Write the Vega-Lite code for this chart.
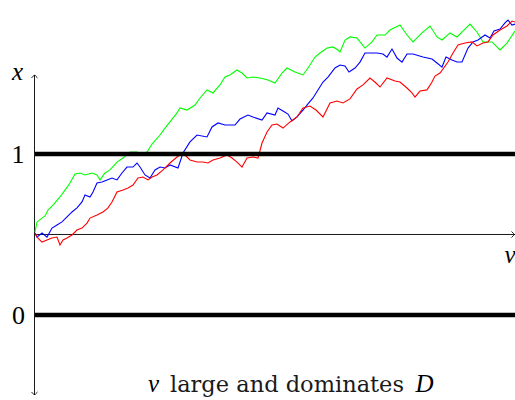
{
  "$schema": "https://vega.github.io/schema/vega-lite/v6.json",
  "width": 480,
  "height": 400,
  "autosize": {"type": "none"},
  "padding": {"left": 35, "top": 0, "right": 0, "bottom": 0},
  "background": "white",
  "config": {"view": {"stroke": null}, "text": {"font": "Liberation Serif"}},
  "datasets": {
    "walks": [
      {"walk": "green", "step": 0, "value": 0.516}, {"walk": "green", "step": 2, "value": 0.578}, {"walk": "green", "step": 7, "value": 0.602}, {"walk": "green", "step": 10, "value": 0.615}, {"walk": "green", "step": 13, "value": 0.652}, {"walk": "green", "step": 18, "value": 0.683}, {"walk": "green", "step": 25, "value": 0.733}, {"walk": "green", "step": 30, "value": 0.776}, {"walk": "green", "step": 35, "value": 0.82}, {"walk": "green", "step": 40, "value": 0.876}, {"walk": "green", "step": 45, "value": 0.882}, {"walk": "green", "step": 50, "value": 0.87}, {"walk": "green", "step": 57, "value": 0.882}, {"walk": "green", "step": 62, "value": 0.87}, {"walk": "green", "step": 65, "value": 0.839}, {"walk": "green", "step": 70, "value": 0.882}, {"walk": "green", "step": 75, "value": 0.901}, {"walk": "green", "step": 82, "value": 0.95}, {"walk": "green", "step": 88, "value": 0.975}, {"walk": "green", "step": 95, "value": 1.012}, {"walk": "green", "step": 102, "value": 1.012}, {"walk": "green", "step": 107, "value": 0.994}, {"walk": "green", "step": 112, "value": 1.012}, {"walk": "green", "step": 117, "value": 1.062}, {"walk": "green", "step": 125, "value": 1.118}, {"walk": "green", "step": 130, "value": 1.161}, {"walk": "green", "step": 135, "value": 1.199}, {"walk": "green", "step": 142, "value": 1.255}, {"walk": "green", "step": 145, "value": 1.286}, {"walk": "green", "step": 152, "value": 1.273}, {"walk": "green", "step": 160, "value": 1.304}, {"walk": "green", "step": 165, "value": 1.348}, {"walk": "green", "step": 172, "value": 1.398}, {"walk": "green", "step": 178, "value": 1.379}, {"walk": "green", "step": 185, "value": 1.429}, {"walk": "green", "step": 190, "value": 1.478}, {"walk": "green", "step": 195, "value": 1.491}, {"walk": "green", "step": 202, "value": 1.522}, {"walk": "green", "step": 207, "value": 1.503}, {"walk": "green", "step": 212, "value": 1.472}, {"walk": "green", "step": 218, "value": 1.478}, {"walk": "green", "step": 225, "value": 1.472}, {"walk": "green", "step": 233, "value": 1.46}, {"walk": "green", "step": 240, "value": 1.441}, {"walk": "green", "step": 247, "value": 1.503}, {"walk": "green", "step": 252, "value": 1.534}, {"walk": "green", "step": 260, "value": 1.509}, {"walk": "green", "step": 268, "value": 1.491}, {"walk": "green", "step": 275, "value": 1.553}, {"walk": "green", "step": 280, "value": 1.602}, {"walk": "green", "step": 285, "value": 1.627}, {"walk": "green", "step": 292, "value": 1.658}, {"walk": "green", "step": 298, "value": 1.665}, {"walk": "green", "step": 303, "value": 1.646}, {"walk": "green", "step": 305, "value": 1.634}, {"walk": "green", "step": 310, "value": 1.708}, {"walk": "green", "step": 315, "value": 1.727}, {"walk": "green", "step": 322, "value": 1.72}, {"walk": "green", "step": 330, "value": 1.658}, {"walk": "green", "step": 337, "value": 1.696}, {"walk": "green", "step": 342, "value": 1.739}, {"walk": "green", "step": 350, "value": 1.739}, {"walk": "green", "step": 355, "value": 1.77}, {"walk": "green", "step": 365, "value": 1.801}, {"walk": "green", "step": 372, "value": 1.739}, {"walk": "green", "step": 378, "value": 1.696}, {"walk": "green", "step": 387, "value": 1.752}, {"walk": "green", "step": 395, "value": 1.795}, {"walk": "green", "step": 402, "value": 1.727}, {"walk": "green", "step": 407, "value": 1.708}, {"walk": "green", "step": 415, "value": 1.752}, {"walk": "green", "step": 422, "value": 1.727}, {"walk": "green", "step": 429, "value": 1.77}, {"walk": "green", "step": 435, "value": 1.807}, {"walk": "green", "step": 442, "value": 1.758}, {"walk": "green", "step": 448, "value": 1.696}, {"walk": "green", "step": 457, "value": 1.696}, {"walk": "green", "step": 465, "value": 1.646}, {"walk": "green", "step": 472, "value": 1.689}, {"walk": "green", "step": 480, "value": 1.764},

      {"walk": "blue", "step": 0, "value": 0.509}, {"walk": "blue", "step": 2, "value": 0.484}, {"walk": "blue", "step": 7, "value": 0.509}, {"walk": "blue", "step": 12, "value": 0.484}, {"walk": "blue", "step": 17, "value": 0.54}, {"walk": "blue", "step": 22, "value": 0.559}, {"walk": "blue", "step": 27, "value": 0.578}, {"walk": "blue", "step": 32, "value": 0.609}, {"walk": "blue", "step": 37, "value": 0.64}, {"walk": "blue", "step": 42, "value": 0.665}, {"walk": "blue", "step": 47, "value": 0.702}, {"walk": "blue", "step": 50, "value": 0.745}, {"walk": "blue", "step": 55, "value": 0.733}, {"walk": "blue", "step": 58, "value": 0.764}, {"walk": "blue", "step": 62, "value": 0.82}, {"walk": "blue", "step": 67, "value": 0.826}, {"walk": "blue", "step": 72, "value": 0.839}, {"walk": "blue", "step": 77, "value": 0.851}, {"walk": "blue", "step": 82, "value": 0.839}, {"walk": "blue", "step": 87, "value": 0.882}, {"walk": "blue", "step": 92, "value": 0.919}, {"walk": "blue", "step": 98, "value": 0.919}, {"walk": "blue", "step": 102, "value": 0.944}, {"walk": "blue", "step": 105, "value": 0.919}, {"walk": "blue", "step": 110, "value": 0.87}, {"walk": "blue", "step": 115, "value": 0.851}, {"walk": "blue", "step": 120, "value": 0.901}, {"walk": "blue", "step": 125, "value": 0.919}, {"walk": "blue", "step": 130, "value": 0.913}, {"walk": "blue", "step": 135, "value": 0.932}, {"walk": "blue", "step": 143, "value": 0.913}, {"walk": "blue", "step": 148, "value": 1.006}, {"walk": "blue", "step": 155, "value": 1.075}, {"walk": "blue", "step": 162, "value": 1.118}, {"walk": "blue", "step": 172, "value": 1.106}, {"walk": "blue", "step": 177, "value": 1.168}, {"walk": "blue", "step": 183, "value": 1.193}, {"walk": "blue", "step": 190, "value": 1.18}, {"walk": "blue", "step": 200, "value": 1.18}, {"walk": "blue", "step": 205, "value": 1.217}, {"walk": "blue", "step": 213, "value": 1.242}, {"walk": "blue", "step": 218, "value": 1.23}, {"walk": "blue", "step": 227, "value": 1.211}, {"walk": "blue", "step": 232, "value": 1.255}, {"walk": "blue", "step": 240, "value": 1.242}, {"walk": "blue", "step": 243, "value": 1.286}, {"walk": "blue", "step": 248, "value": 1.267}, {"walk": "blue", "step": 253, "value": 1.248}, {"walk": "blue", "step": 257, "value": 1.205}, {"walk": "blue", "step": 262, "value": 1.23}, {"walk": "blue", "step": 268, "value": 1.273}, {"walk": "blue", "step": 273, "value": 1.311}, {"walk": "blue", "step": 278, "value": 1.348}, {"walk": "blue", "step": 283, "value": 1.398}, {"walk": "blue", "step": 288, "value": 1.447}, {"walk": "blue", "step": 293, "value": 1.478}, {"walk": "blue", "step": 300, "value": 1.534}, {"walk": "blue", "step": 305, "value": 1.553}, {"walk": "blue", "step": 310, "value": 1.547}, {"walk": "blue", "step": 314, "value": 1.509}, {"walk": "blue", "step": 320, "value": 1.534}, {"walk": "blue", "step": 325, "value": 1.571}, {"walk": "blue", "step": 330, "value": 1.627}, {"walk": "blue", "step": 335, "value": 1.627}, {"walk": "blue", "step": 342, "value": 1.627}, {"walk": "blue", "step": 348, "value": 1.621}, {"walk": "blue", "step": 352, "value": 1.602}, {"walk": "blue", "step": 357, "value": 1.652}, {"walk": "blue", "step": 362, "value": 1.596}, {"walk": "blue", "step": 367, "value": 1.571}, {"walk": "blue", "step": 372, "value": 1.621}, {"walk": "blue", "step": 378, "value": 1.621}, {"walk": "blue", "step": 388, "value": 1.602}, {"walk": "blue", "step": 397, "value": 1.59}, {"walk": "blue", "step": 402, "value": 1.565}, {"walk": "blue", "step": 407, "value": 1.54}, {"walk": "blue", "step": 411, "value": 1.602}, {"walk": "blue", "step": 417, "value": 1.584}, {"walk": "blue", "step": 422, "value": 1.571}, {"walk": "blue", "step": 427, "value": 1.571}, {"walk": "blue", "step": 433, "value": 1.658}, {"walk": "blue", "step": 438, "value": 1.696}, {"walk": "blue", "step": 443, "value": 1.708}, {"walk": "blue", "step": 450, "value": 1.739}, {"walk": "blue", "step": 455, "value": 1.72}, {"walk": "blue", "step": 459, "value": 1.764}, {"walk": "blue", "step": 465, "value": 1.776}, {"walk": "blue", "step": 470, "value": 1.814}, {"walk": "blue", "step": 473, "value": 1.832}, {"walk": "blue", "step": 477, "value": 1.801}, {"walk": "blue", "step": 480, "value": 1.807},

      {"walk": "red", "step": 0, "value": 0.509}, {"walk": "red", "step": 3, "value": 0.478}, {"walk": "red", "step": 7, "value": 0.453}, {"walk": "red", "step": 12, "value": 0.466}, {"walk": "red", "step": 17, "value": 0.478}, {"walk": "red", "step": 22, "value": 0.484}, {"walk": "red", "step": 25, "value": 0.435}, {"walk": "red", "step": 28, "value": 0.466}, {"walk": "red", "step": 32, "value": 0.478}, {"walk": "red", "step": 37, "value": 0.497}, {"walk": "red", "step": 42, "value": 0.528}, {"walk": "red", "step": 47, "value": 0.54}, {"walk": "red", "step": 52, "value": 0.571}, {"walk": "red", "step": 55, "value": 0.602}, {"walk": "red", "step": 62, "value": 0.621}, {"walk": "red", "step": 68, "value": 0.64}, {"walk": "red", "step": 73, "value": 0.665}, {"walk": "red", "step": 77, "value": 0.702}, {"walk": "red", "step": 82, "value": 0.764}, {"walk": "red", "step": 88, "value": 0.776}, {"walk": "red", "step": 93, "value": 0.789}, {"walk": "red", "step": 98, "value": 0.807}, {"walk": "red", "step": 103, "value": 0.851}, {"walk": "red", "step": 108, "value": 0.857}, {"walk": "red", "step": 113, "value": 0.839}, {"walk": "red", "step": 117, "value": 0.857}, {"walk": "red", "step": 122, "value": 0.87}, {"walk": "red", "step": 128, "value": 0.901}, {"walk": "red", "step": 135, "value": 0.944}, {"walk": "red", "step": 142, "value": 0.981}, {"walk": "red", "step": 148, "value": 1.006}, {"walk": "red", "step": 155, "value": 0.963}, {"walk": "red", "step": 162, "value": 0.95}, {"walk": "red", "step": 168, "value": 0.95}, {"walk": "red", "step": 173, "value": 0.944}, {"walk": "red", "step": 178, "value": 0.963}, {"walk": "red", "step": 185, "value": 0.975}, {"walk": "red", "step": 192, "value": 0.994}, {"walk": "red", "step": 197, "value": 0.975}, {"walk": "red", "step": 202, "value": 0.95}, {"walk": "red", "step": 207, "value": 0.919}, {"walk": "red", "step": 212, "value": 0.975}, {"walk": "red", "step": 218, "value": 0.981}, {"walk": "red", "step": 223, "value": 0.975}, {"walk": "red", "step": 227, "value": 1.068}, {"walk": "red", "step": 232, "value": 1.137}, {"walk": "red", "step": 237, "value": 1.18}, {"walk": "red", "step": 242, "value": 1.186}, {"walk": "red", "step": 248, "value": 1.161}, {"walk": "red", "step": 255, "value": 1.199}, {"walk": "red", "step": 262, "value": 1.23}, {"walk": "red", "step": 268, "value": 1.286}, {"walk": "red", "step": 275, "value": 1.298}, {"walk": "red", "step": 281, "value": 1.273}, {"walk": "red", "step": 288, "value": 1.23}, {"walk": "red", "step": 295, "value": 1.317}, {"walk": "red", "step": 302, "value": 1.329}, {"walk": "red", "step": 308, "value": 1.317}, {"walk": "red", "step": 315, "value": 1.342}, {"walk": "red", "step": 322, "value": 1.404}, {"walk": "red", "step": 328, "value": 1.429}, {"walk": "red", "step": 335, "value": 1.472}, {"walk": "red", "step": 341, "value": 1.441}, {"walk": "red", "step": 345, "value": 1.416}, {"walk": "red", "step": 352, "value": 1.472}, {"walk": "red", "step": 360, "value": 1.453}, {"walk": "red", "step": 365, "value": 1.447}, {"walk": "red", "step": 372, "value": 1.41}, {"walk": "red", "step": 377, "value": 1.379}, {"walk": "red", "step": 380, "value": 1.354}, {"walk": "red", "step": 385, "value": 1.391}, {"walk": "red", "step": 392, "value": 1.398}, {"walk": "red", "step": 397, "value": 1.447}, {"walk": "red", "step": 400, "value": 1.484}, {"walk": "red", "step": 405, "value": 1.503}, {"walk": "red", "step": 413, "value": 1.571}, {"walk": "red", "step": 418, "value": 1.627}, {"walk": "red", "step": 423, "value": 1.677}, {"walk": "red", "step": 430, "value": 1.689}, {"walk": "red", "step": 437, "value": 1.696}, {"walk": "red", "step": 442, "value": 1.671}, {"walk": "red", "step": 448, "value": 1.689}, {"walk": "red", "step": 453, "value": 1.696}, {"walk": "red", "step": 458, "value": 1.739}, {"walk": "red", "step": 465, "value": 1.77}, {"walk": "red", "step": 472, "value": 1.795}, {"walk": "red", "step": 477, "value": 1.826}, {"walk": "red", "step": 480, "value": 1.82}
    ],
    "levels": [{"level": 0}, {"level": 1}],
    "tickText": [
      {"label": "1", "step": -17, "value": 0.947},
      {"label": "0", "step": -16.5, "value": -0.056}
    ],
    "captionText": [
      {"label": "large and dominates", "step": 135, "value": -0.478}
    ],
    "italicText": [
      {"label": "x", "step": -17.5, "value": 1.46},
      {"label": "v", "step": 475, "value": 0.323},
      {"label": "v", "step": 118.5, "value": -0.478},
      {"label": "D", "step": 389.5, "value": -0.478}
    ]
  },
  "layer": [
    {
      "data": {"values": [{}]},
      "mark": {"type": "rule", "stroke": "#000000", "strokeWidth": 0.9},
      "encoding": {
        "x": {"datum": -0.5, "type": "quantitative", "scale": {"domain": [0, 480], "nice": false, "zero": false}, "axis": null},
        "y": {"datum": -0.497, "type": "quantitative", "scale": {"domain": [-0.528, 1.9565], "nice": false, "zero": false}, "axis": null},
        "y2": {"datum": 1.491}
      }
    },
    {
      "data": {"values": [{}]},
      "mark": {"type": "rule", "stroke": "#000000", "strokeWidth": 0.9},
      "encoding": {
        "x": {"datum": 0, "type": "quantitative"},
        "x2": {"datum": 480},
        "y": {"datum": 0.5, "type": "quantitative"}
      }
    },
    {
      "data": {"values": [{}]},
      "mark": {"type": "point", "shape": "M-1,1Q-0.3,0.3,0,0Q0.3,0.3,1,1", "size": 36, "filled": false, "stroke": "#000000", "strokeWidth": 0.9, "opacity": 1},
      "encoding": {
        "x": {"datum": -0.5, "type": "quantitative"},
        "y": {"datum": 1.491, "type": "quantitative"}
      }
    },
    {
      "data": {"values": [{}]},
      "mark": {"type": "point", "shape": "M-1,-1Q-0.3,-0.3,0,0Q0.3,-0.3,1,-1", "size": 36, "filled": false, "stroke": "#000000", "strokeWidth": 0.9, "opacity": 1},
      "encoding": {
        "x": {"datum": -0.5, "type": "quantitative"},
        "y": {"datum": -0.497, "type": "quantitative"}
      }
    },
    {
      "data": {"values": [{}]},
      "mark": {"type": "point", "shape": "M-1,-1Q-0.3,-0.3,0,0Q-0.3,0.3,-1,1", "size": 36, "filled": false, "stroke": "#000000", "strokeWidth": 0.9, "opacity": 1},
      "encoding": {
        "x": {"datum": 479.5, "type": "quantitative"},
        "y": {"datum": 0.5, "type": "quantitative"}
      }
    },
    {
      "data": {"name": "walks"},
      "mark": {"type": "line", "strokeWidth": 1.1, "interpolate": "linear"},
      "encoding": {
        "x": {"field": "step", "type": "quantitative"},
        "y": {"field": "value", "type": "quantitative"},
        "color": {
          "field": "walk",
          "type": "nominal",
          "scale": {"domain": ["green", "blue", "red"], "range": ["#00ff00", "#0000ff", "#ff0000"]},
          "legend": null
        }
      }
    },
    {
      "data": {"name": "levels"},
      "mark": {"type": "rule", "stroke": "#000000", "strokeWidth": 4.5},
      "encoding": {
        "x": {"datum": 0, "type": "quantitative"},
        "x2": {"datum": 480},
        "y": {"field": "level", "type": "quantitative"}
      }
    },
    {
      "data": {"name": "captionText"},
      "mark": {"type": "text", "font": "DejaVu Serif", "fontStyle": "normal", "fontSize": 22.5, "baseline": "alphabetic", "align": "left", "color": "#1a1a1a"},
      "encoding": {
        "x": {"field": "step", "type": "quantitative"},
        "y": {"field": "value", "type": "quantitative"},
        "text": {"field": "label"}
      }
    },
    {
      "data": {"name": "tickText"},
      "mark": {"type": "text", "font": "Liberation Serif", "fontStyle": "normal", "fontSize": 26, "baseline": "alphabetic", "align": "center", "color": "#000000"},
      "encoding": {
        "x": {"field": "step", "type": "quantitative"},
        "y": {"field": "value", "type": "quantitative"},
        "text": {"field": "label"}
      }
    },
    {
      "data": {"name": "italicText"},
      "mark": {"type": "text", "font": "Liberation Serif", "fontStyle": "italic", "fontSize": 25, "baseline": "alphabetic", "align": "center", "color": "#000000"},
      "encoding": {
        "x": {"field": "step", "type": "quantitative"},
        "y": {"field": "value", "type": "quantitative"},
        "text": {"field": "label"}
      }
    }
  ]
}
